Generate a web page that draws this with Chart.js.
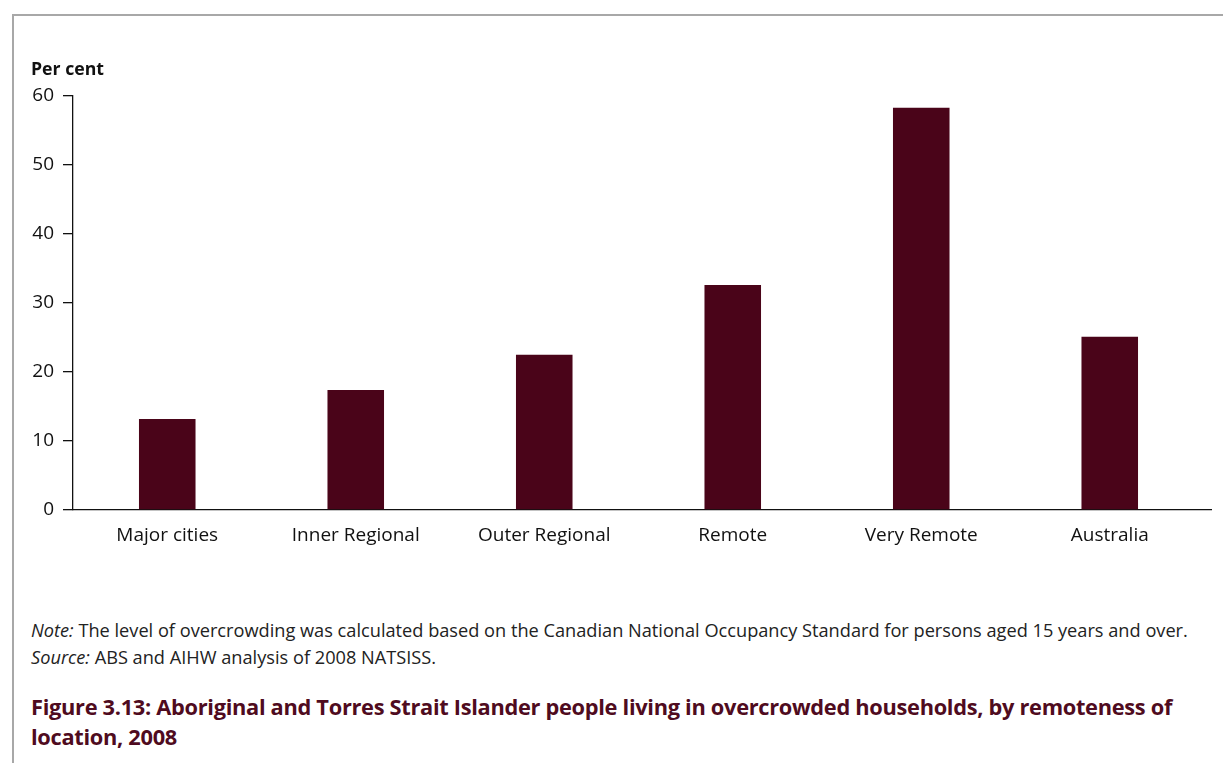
<!DOCTYPE html>
<html lang="en">
<head>
    <meta charset="UTF-8">
    <title>Overcrowded households by remoteness, 2008</title>
    <script src="https://cdn.jsdelivr.net/npm/chart.js"></script>
    <style>
        body{
            margin: 0;
            width: 1223px;
            height: 763px;
            background: #fff;
            font-family: "Open Sans", "Noto Sans", sans-serif;
            position: relative;
            overflow: hidden;
        }
        .frame{
            position: absolute;
            left: 12px;
            top: 14px;
            right: -10px;
            bottom: -10px;
            border-top: 2px solid #a8a8a8;
            border-left: 2px solid #a8a8a8;
        }
        .unit{
            position: absolute;
            left: 31px;
            top: 56px;
            font-size: 17.7px;
            font-weight: bold;
            color: #111;
        }
        #chart{
            position: absolute;
            left: 0;
            top: 0;
        }
        .note{
            position: absolute;
            left: 31px;
            font-size: 18.2px;
            line-height: 24px;
            color: #222;
            white-space: nowrap;
        }
        .caption{
            position: absolute;
            left: 31px;
            top: 692px;
            font-size: 21.8px;
            font-weight: bold;
            color: #4f0b20;
            line-height: 30px;
            letter-spacing: -0.3px;
            white-space: nowrap;
        }
    </style>
</head>
<body>
    <div class="frame"></div>
    <canvas id="chart" width="1223" height="560"></canvas>
    <div class="unit">Per cent</div>
    <div class="note" style="top: 618px;"><i>Note:</i> The level of overcrowding was calculated based on the Canadian National Occupancy Standard for persons aged 15 years and over.</div>
    <div class="note" style="top: 645px;"><i>Source:</i> ABS and AIHW analysis of 2008 NATSISS.</div>
    <div class="caption">Figure 3.13: Aboriginal and Torres Strait Islander people living in overcrowded households, by remoteness of<br>location, 2008</div>

<script>
    const categories = ['Major cities', 'Inner Regional', 'Outer Regional', 'Remote', 'Very Remote', 'Australia'];
    const overcrowded = [13.2, 17.4, 22.5, 32.6, 58.3, 25.1];
    const yTicks = [0, 10, 20, 30, 40, 50, 60];

    const barColour = '#4a0419';
    const labelFont = { family: '"Open Sans", "Noto Sans", sans-serif', size: 19 };

    // the axis line runs a little past the last category slot
    const axisOverhang = 7;
    const shortenCategoryRange = {
        id: 'shortenCategoryRange',
        afterLayout(chart) {
            let s = chart.scales.x;
            s._endPixel = s.right - axisOverhang;
            s._length = s._endPixel - s._startPixel;
        }
    };

    let canvas = document.getElementById('chart');
    let chart = new Chart(canvas, {
        type: 'bar',
        data: {
            labels: categories,
            datasets: [{
                label: 'Per cent',
                data: overcrowded,
                backgroundColor: barColour,
                borderWidth: 0,
                barPercentage: 0.3,
                categoryPercentage: 1
            }]
        },
        options: {
            responsive: false,
            animation: false,
            devicePixelRatio: 1,
            layout: {
                padding: { top: 96, right: 12, left: 0, bottom: 0 }
            },
            scales: {
                x: {
                    grid: { display: false, drawTicks: false },
                    border: { color: '#111', width: 1.3 },
                    ticks: {
                        color: '#111',
                        padding: 14,
                        font: labelFont
                    },
                    afterFit: (scale) => { scale.height = 50; }
                },
                y: {
                    min: 0,
                    max: 60,
                    afterBuildTicks: (scale) => { scale.ticks = yTicks.map(v => ({ value: v })); },
                    grid: {
                        drawOnChartArea: false,
                        drawTicks: true,
                        tickLength: 10,
                        color: '#111',
                        lineWidth: 1.3
                    },
                    border: { color: '#111', width: 1.3 },
                    ticks: {
                        color: '#111',
                        padding: 9,
                        font: labelFont
                    },
                    afterFit: (scale) => { scale.width = 73; }
                }
            },
            plugins: {
                legend: { display: false },
                tooltip: { enabled: false }
            }
        },
        plugins: [shortenCategoryRange]
    });
</script>
</body>
</html>
